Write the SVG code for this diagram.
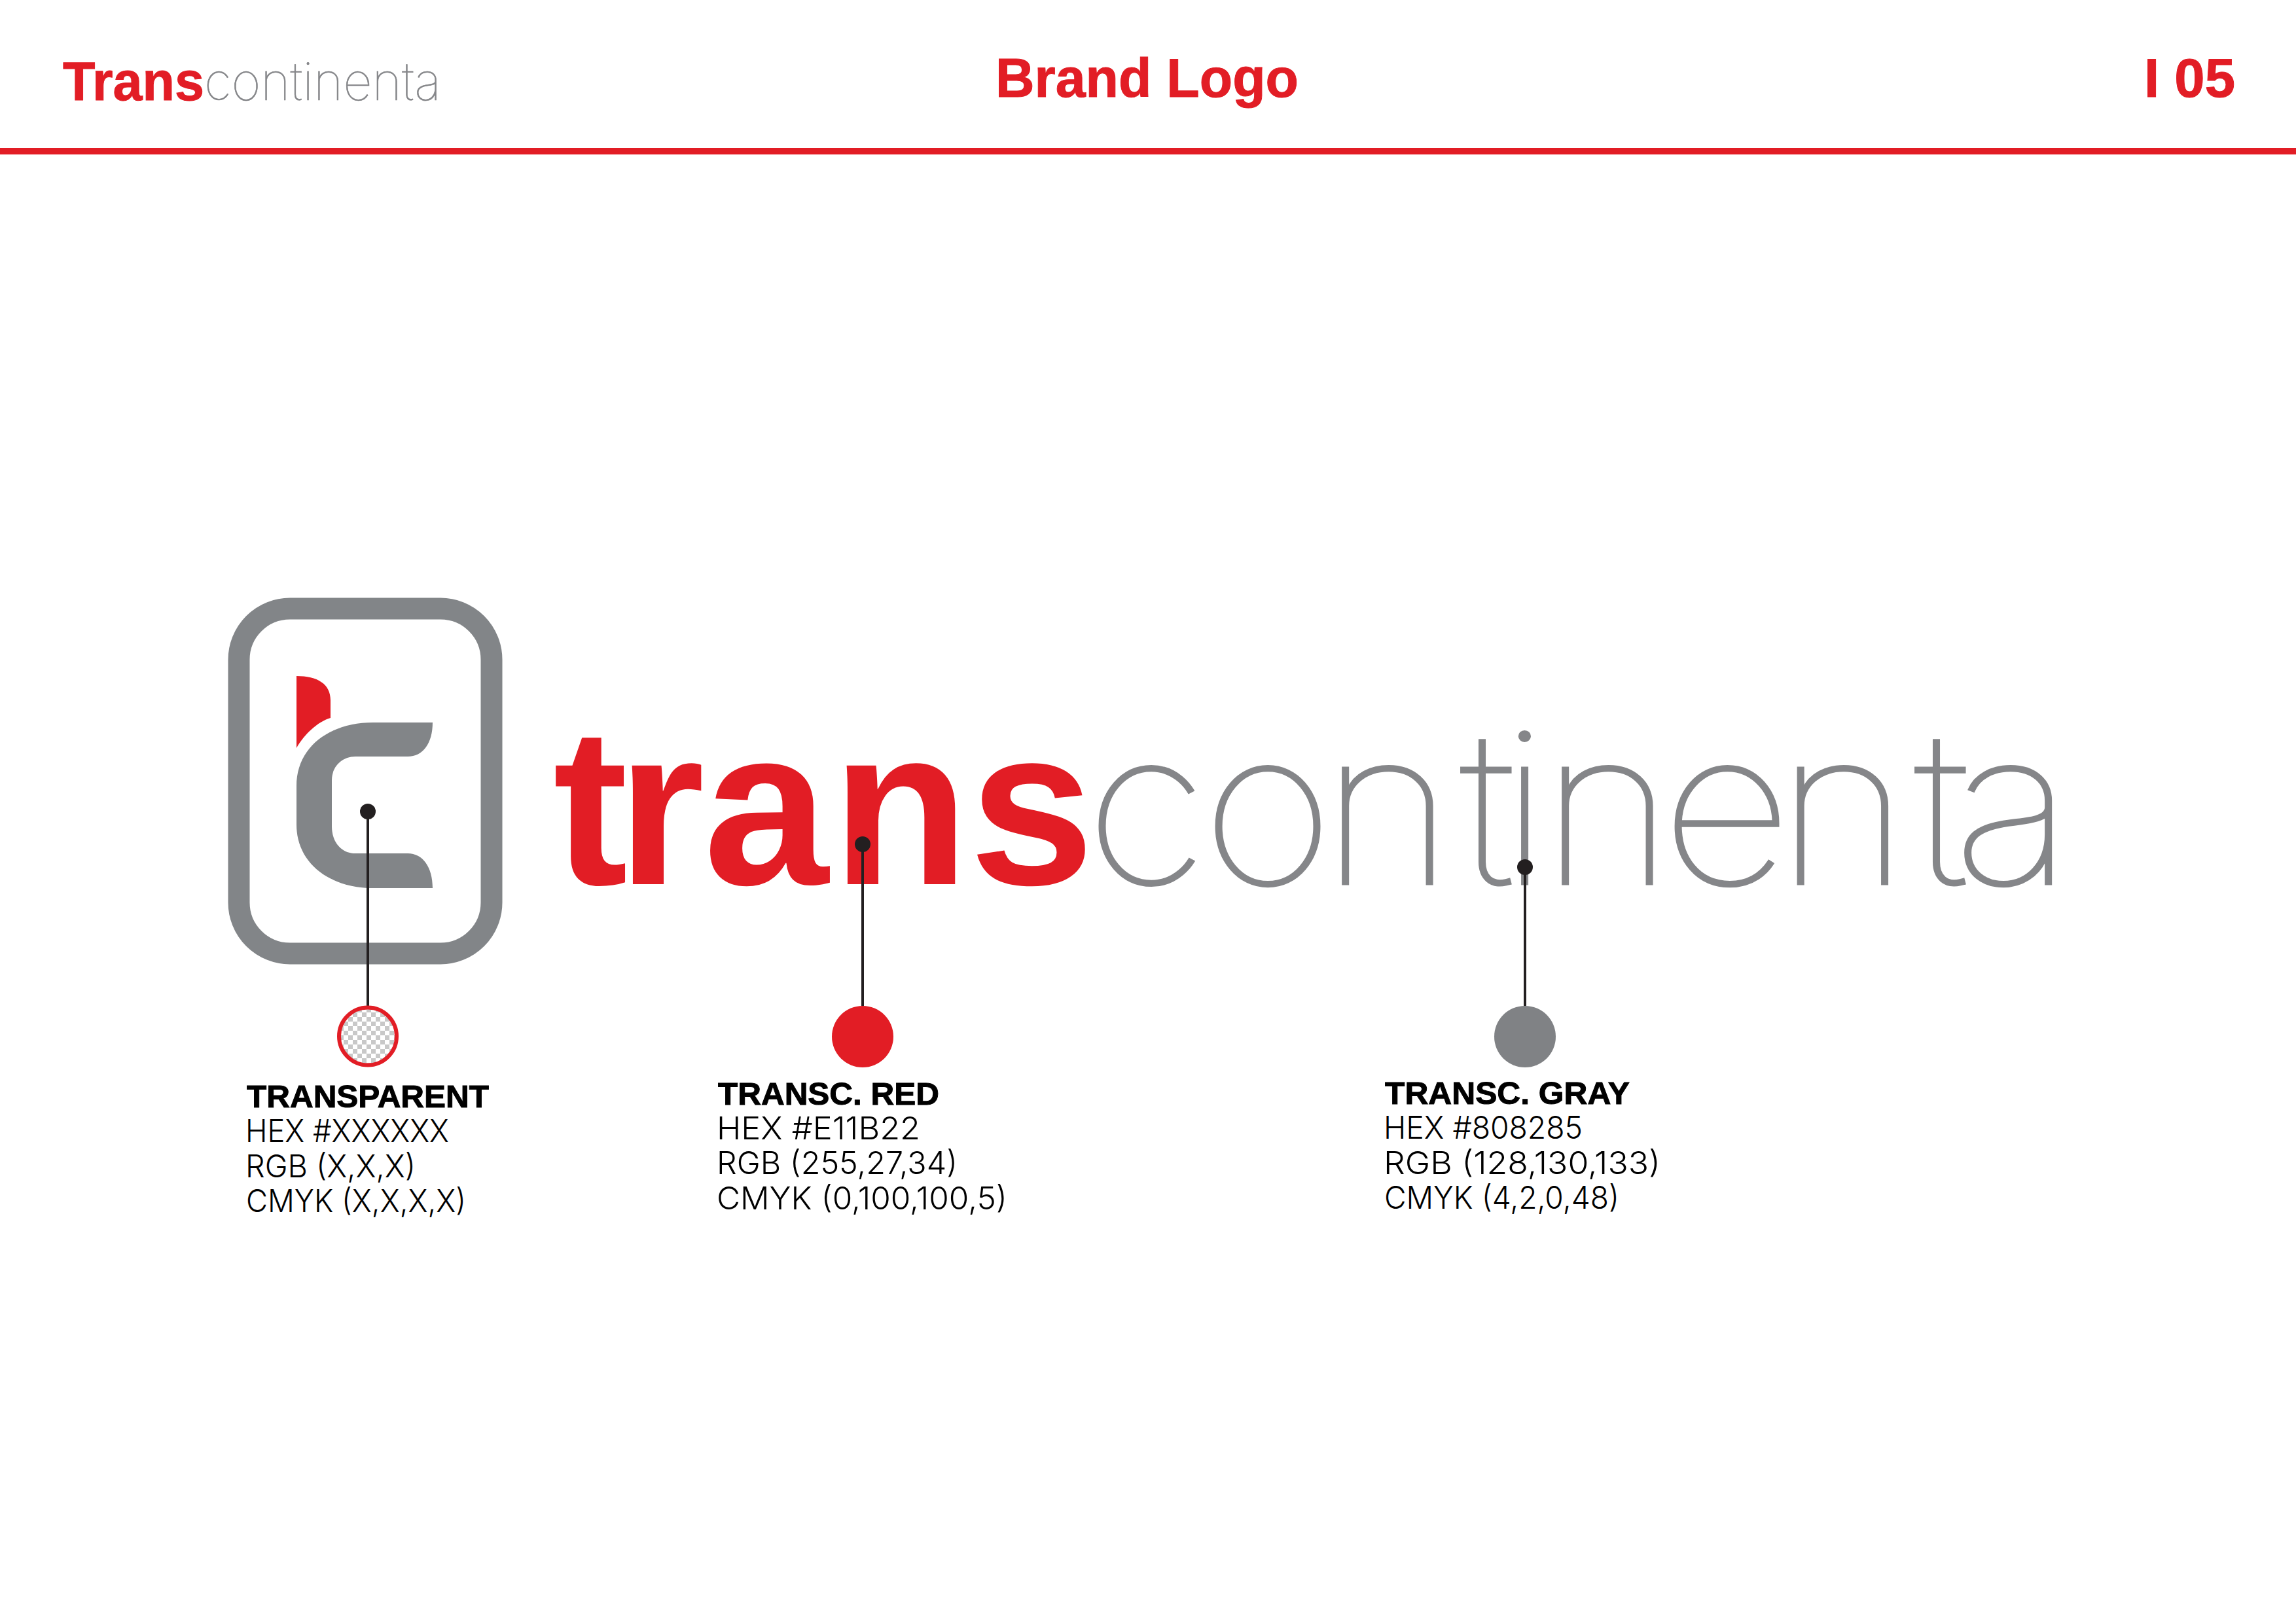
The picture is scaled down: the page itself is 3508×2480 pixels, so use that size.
<svg xmlns="http://www.w3.org/2000/svg" width="3508" height="2480" viewBox="0 0 3508 2480">
<defs>
<style>
.red{fill:#e21d25}
.gray{fill:#828588}
.h{font-family:"Liberation Sans",Arial,sans-serif;font-weight:700;font-size:83px;stroke:#e21d25;stroke-width:1px}
.wb{font-family:"Liberation Sans",Arial,sans-serif;font-weight:700;font-size:343px;fill:#e21d25}
.wl{font-family:Inter,"Liberation Sans",sans-serif;font-weight:100;font-size:326px;fill:#858689;stroke:#858689;stroke-width:3px}
.hl{font-family:Inter,"Liberation Sans",sans-serif;font-weight:100;font-size:80px;fill:#858689;stroke:#858689;stroke-width:.6px}
.lb{font-family:"Liberation Sans",Arial,sans-serif;font-weight:700;font-size:49px;fill:#000;stroke:#000;stroke-width:1px}
.lt{font-family:Inter,"Liberation Sans",sans-serif;font-weight:300;font-size:48px;fill:#000}
.con{stroke:#231f20;stroke-width:4;fill:none}
.dot{fill:#231f20}
</style>
<pattern id="chk" x="0" y="0" width="14" height="14" patternUnits="userSpaceOnUse">
<rect width="14" height="14" fill="#fff"/>
<rect width="7" height="7" fill="#c8c8c8"/>
<rect x="7" y="7" width="7" height="7" fill="#c8c8c8"/>
</pattern>
</defs>
<rect width="3508" height="2480" fill="#fff"/>
<g id="header">
<text class="h red" x="96" y="153" textLength="216" lengthAdjust="spacingAndGlyphs">Trans</text>
<text class="hl" x="312" y="153" textLength="362" lengthAdjust="spacingAndGlyphs">continenta</text>
<text class="h red" x="1521" y="148" textLength="463" lengthAdjust="spacingAndGlyphs">Brand Logo</text>
<text class="h red" x="3276" y="148" textLength="139" lengthAdjust="spacingAndGlyphs">I 05</text>
<rect class="red" x="0" y="226" width="3508" height="10"/>
</g>
<g id="logo-mark">
<rect x="365" y="930" width="386" height="527" rx="78" ry="78" fill="none" stroke="#828588" stroke-width="33"/>
<path class="gray" d="M453 1201C453 1140 505 1104 570 1104H661C661 1136 646 1156 623 1156H543C522 1156 507 1172 507 1192V1263C507 1287 522 1304 543 1304H623C646 1304 661 1325 661 1357H570C505 1357 453 1320 453 1260Z"/>
<path class="red" d="M453 1033C485 1033 505 1045 505 1070V1097C485 1103 465 1122 453 1143Z"/>
</g>
<g id="wordmark">
<text class="wb" y="1351" x="845 943 1075 1271 1481">trans</text>
<text class="wl" transform="scale(1.07,1)" y="1351" x="1549.5 1715.9 1886 2085 2142 2200 2372 2536 2733.6 2788.8">continenta</text>
</g>
<g id="connectors">
<line class="con" x1="562" y1="1240" x2="562" y2="1537"/>
<line class="con" x1="1318" y1="1290" x2="1318" y2="1537"/>
<line class="con" x1="2330" y1="1325" x2="2330" y2="1537"/>
</g>
<g id="swatch-transparent">
<circle class="dot" cx="562" cy="1240" r="12"/>
<circle cx="562" cy="1583.5" r="44" fill="url(#chk)" stroke="#e21d25" stroke-width="6"/>
<text class="lb" x="377" y="1692" textLength="370" lengthAdjust="spacingAndGlyphs">TRANSPARENT</text>
<text class="lt" x="375" y="1745" textLength="311" lengthAdjust="spacingAndGlyphs">HEX #XXXXXX</text>
<text class="lt" x="375" y="1799" textLength="260" lengthAdjust="spacingAndGlyphs">RGB (X,X,X)</text>
<text class="lt" x="376" y="1852" textLength="336" lengthAdjust="spacingAndGlyphs">CMYK (X,X,X,X)</text>
</g>
<g id="swatch-red">
<circle class="dot" cx="1318" cy="1290" r="12"/>
<circle class="red" cx="1318" cy="1584" r="47"/>
<text class="lb" x="1097" y="1688" textLength="338" lengthAdjust="spacingAndGlyphs">TRANSC. RED</text>
<text class="lt" x="1095" y="1741" textLength="311" lengthAdjust="spacingAndGlyphs">HEX #E11B22</text>
<text class="lt" x="1095" y="1794" textLength="368" lengthAdjust="spacingAndGlyphs">RGB (255,27,34)</text>
<text class="lt" x="1095" y="1848" textLength="444" lengthAdjust="spacingAndGlyphs">CMYK (0,100,100,5)</text>
</g>
<g id="swatch-gray">
<circle class="dot" cx="2330" cy="1325" r="12"/>
<circle cx="2330" cy="1584" r="47" fill="#808285"/>
<text class="lb" x="2116" y="1687" textLength="374" lengthAdjust="spacingAndGlyphs">TRANSC. GRAY</text>
<text class="lt" x="2114" y="1740" textLength="304" lengthAdjust="spacingAndGlyphs">HEX #808285</text>
<text class="lt" x="2114" y="1794" textLength="423" lengthAdjust="spacingAndGlyphs">RGB (128,130,133)</text>
<text class="lt" x="2115" y="1847" textLength="359" lengthAdjust="spacingAndGlyphs">CMYK (4,2,0,48)</text>
</g>
</svg>
